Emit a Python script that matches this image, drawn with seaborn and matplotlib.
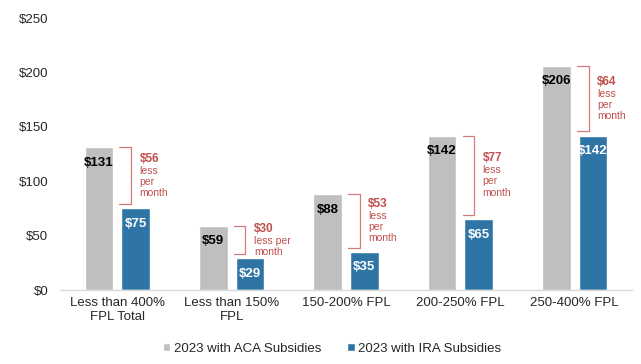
import matplotlib
matplotlib.use("Agg")
import matplotlib.pyplot as plt
import seaborn as sns
import pandas as pd

categories = ["Less than 400%\nFPL Total", "Less than 150%\nFPL", "150-200% FPL",
              "200-250% FPL", "250-400% FPL"]
aca_values = [131, 59, 88, 142, 206]
ira_values = [75, 29, 35, 65, 142]
series_names = ["2023 with ACA Subsidies", "2023 with IRA Subsidies"]
diff_labels = ["$56", "$30", "$53", "$77", "$64"]
diff_texts = ["less\nper\nmonth", "less per\nmonth", "less\nper\nmonth",
              "less\nper\nmonth", "less\nper\nmonth"]
y_ticks = [0, 50, 100, 150, 200, 250]

GRAY = "#BFBFBF"
BLUE = "#2E75A6"
RED = "#C0504D"
RED_LINE = "#D47C7A"

sns.set_theme(style="white")
plt.rcParams["font.family"] = ["Liberation Sans", "DejaVu Sans"]

df = pd.DataFrame({
    "category": categories * 2,
    "value": aca_values + ira_values,
    "series": [series_names[0]] * len(categories) + [series_names[1]] * len(categories),
})

fig = plt.figure(figsize=(6.41, 3.64), dpi=100)
ax = fig.add_axes([60 / 641, 1 - 290 / 364, 572 / 641, 272 / 364])

sns.barplot(data=df, x="category", y="value", hue="series", order=categories,
            hue_order=series_names, palette=[GRAY, BLUE], width=0.64, gap=0.22,
            saturation=1, ax=ax, legend=True)

ax.set_ylim(0, 250)
ax.set_xlim(-0.5, len(categories) - 0.5)
ax.set_yticks(y_ticks)
ax.set_yticklabels([f"${v}" for v in y_ticks])
ax.set_xlabel("")
ax.set_ylabel("")
ax.tick_params(axis="y", length=0, pad=8.5, labelsize=9.5, labelcolor="#262626")
ax.tick_params(axis="x", length=0, pad=5, labelsize=9.5, labelcolor="#262626")
for s in ["left", "right", "top"]:
    ax.spines[s].set_visible(False)
ax.spines["bottom"].set_color("#D9D9D9")
ax.spines["bottom"].set_linewidth(1)

# value labels inside bars
for cont, vals, col in zip(ax.containers, [aca_values, ira_values], ["black", "white"]):
    for bar, v in zip(cont.patches, vals):
        ax.annotate(f"${v}", (bar.get_x() + bar.get_width() / 2, v),
                    xytext=(0, -11), textcoords="offset points",
                    ha="center", va="center", fontsize=9.5, fontweight="bold", color=col)

# brackets and difference annotations (text block centred on the bracket)
PX = 0.72  # points per pixel at 100 dpi
for i, (hi, lo, lab, txt) in enumerate(zip(aca_values, ira_values, diff_labels, diff_texts)):
    xv = i + 0.12
    xt = xv - 0.10
    ylo = lo + 4
    ax.plot([xt, xv, xv, xt], [hi, hi, ylo, ylo], color=RED_LINE, lw=0.9,
            solid_joinstyle="miter")
    mid = (hi + ylo) / 2
    n_lines = txt.count("\n") + 1
    half = (10 + 12 * n_lines) * PX / 2
    ax.annotate(lab, (xv + 0.075, mid), xytext=(0, half), textcoords="offset points",
                ha="left", va="top", fontsize=8.5, fontweight="bold", color=RED)
    ax.annotate(txt, (xv + 0.075, mid), xytext=(0, half - 13 * PX), textcoords="offset points",
                ha="left", va="top", fontsize=7.5, color=RED, linespacing=1.15)

leg = ax.legend(loc="center", bbox_to_anchor=(332 / 641, 1 - 349 / 364),
                bbox_transform=fig.transFigure, ncol=2, frameon=False,
                fontsize=9.5, handlelength=0.55, handleheight=0.55,
                handletextpad=0.25, columnspacing=2.0)
for t in leg.get_texts():
    t.set_color("#262626")

fig.savefig("out.png", dpi=100)
